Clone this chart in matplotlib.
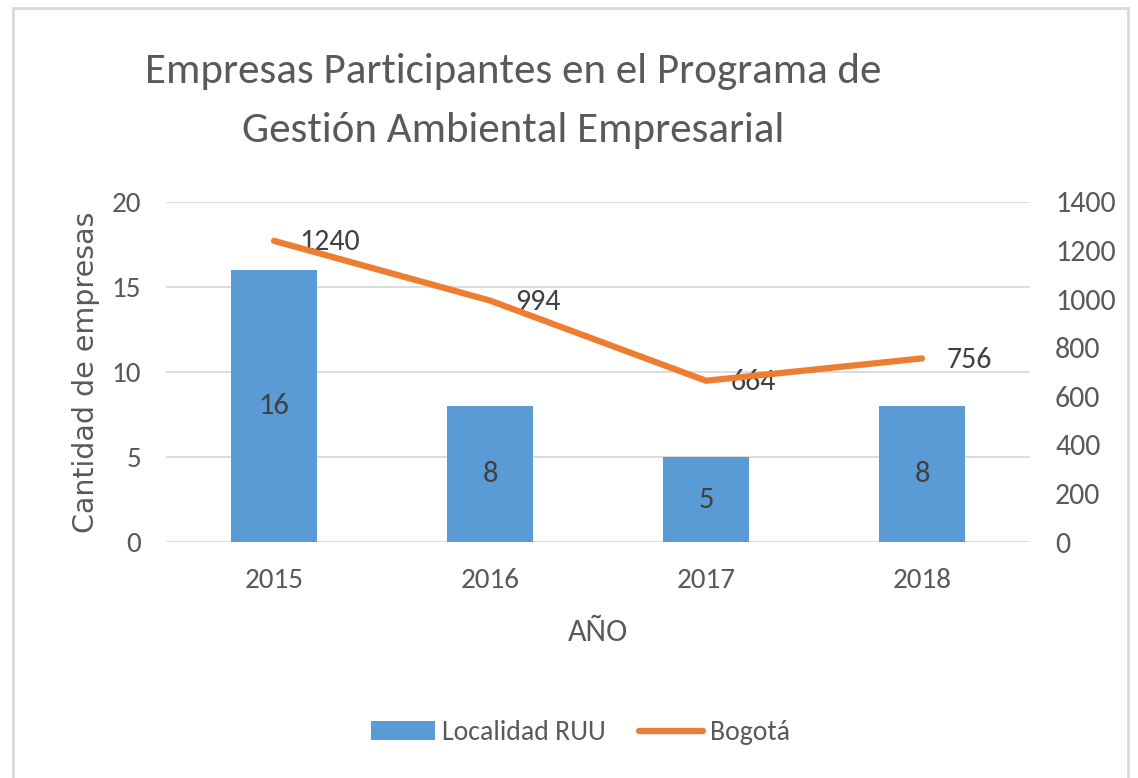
import matplotlib
matplotlib.use("Agg")
import matplotlib.pyplot as plt
import numpy as np
from matplotlib.patches import Rectangle

plt.rcParams['font.family'] = ['Carlito', 'Lato', 'DejaVu Sans']

years = ['2015', '2016', '2017', '2018']
localidad = [16, 8, 5, 8]
bogota = [1240, 994, 664, 756]

title = 'Empresas Participantes en el Programa de\nGestión Ambiental Empresarial'
bar_color = '#5B9BD5'
line_color = '#ED7D31'
txt = '#595959'
grid = '#D9D9D9'

fig = plt.figure(figsize=(11.38, 7.78), dpi=100)
ax = fig.add_axes([0.1459, 0.3033, 0.7592, 0.4371])
ax2 = ax.twinx()

x = np.arange(len(years))
bars = ax.bar(x, localidad, width=0.4, color=bar_color, zorder=2, label='Localidad RUU')
ax.set_xlim(-0.5, len(years) - 0.5)
ax.set_ylim(0, 20)
ax.set_yticks([0, 5, 10, 15, 20])
ax.grid(axis='y', color=grid, linewidth=1.3, zorder=0)
ax.set_axisbelow(True)
for s in ax.spines.values():
    s.set_visible(False)
for s in ax2.spines.values():
    s.set_visible(False)
ax.tick_params(length=0, labelsize=21, labelcolor=txt, pad=18)
ax.tick_params(axis='x', pad=19)
ax.set_xticks(x)
ax.set_xticklabels(years)

for xi, v in zip(x, localidad):
    ax.text(xi, v / 2, str(v), ha='center', va='center', fontsize=22, color='#404040', zorder=3)

ax2.plot(x, bogota, color=line_color, linewidth=4.5, solid_capstyle='round', zorder=4, label='Bogotá')
ax2.set_ylim(0, 1400)
ax2.set_yticks(range(0, 1401, 200))
ax2.tick_params(length=0, labelsize=21.5, labelcolor=txt, pad=18)
for xi, v in zip(x, bogota):
    ax2.annotate(str(v), (xi, v), xytext=(18, -1), textcoords='offset points',
                 ha='left', va='center', fontsize=21.5, color='#404040')

ax.set_xlabel('AÑO', fontsize=23, color=txt, labelpad=18)
ax.set_ylabel('Cantidad de empresas', fontsize=20.5, color=txt, labelpad=8,
              family=['DejaVu Sans'])

fig.text(0.451, 0.87, title, ha='center', va='center', fontsize=31, color=txt,
         linespacing=1.75)

handles = [bars, ax2.get_lines()[0]]
leg = fig.legend(handles, ['Localidad RUU', 'Bogotá'], loc='center',
                 bbox_to_anchor=(0.51, 0.058), ncol=2, frameon=False,
                 fontsize=20, handlelength=2.3, handleheight=0.7,
                 handletextpad=0.25, columnspacing=1.2)
for t in leg.get_texts():
    t.set_color(txt)

fig.patches.append(Rectangle((0.011, -0.01), 0.98, 1.0, transform=fig.transFigure,
                             fill=False, edgecolor='#D9D9D9', linewidth=2))

fig.savefig('out.png', dpi=100)
